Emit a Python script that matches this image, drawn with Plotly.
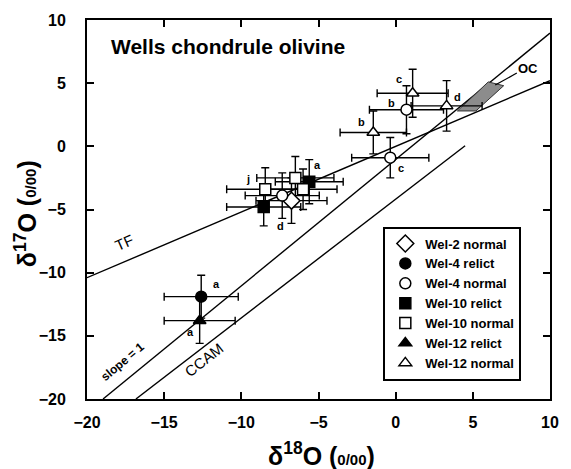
import plotly.graph_objects as go

# ---------------- data ----------------
groups = ["Wel-2 normal", "Wel-4 relict", "Wel-4 normal", "Wel-10 relict",
          "Wel-10 normal", "Wel-12 relict", "Wel-12 normal"]
symbols = ["diamond", "circle", "circle", "square", "square", "triangle-up", "triangle-up"]
fills = ["white", "black", "white", "black", "white", "black", "white"]

wel2n_x = [-6.75]; wel2n_y = [-4.3]
wel2n_ex = [2.3];  wel2n_ey = [1.8]

wel4r_x = [-12.6]; wel4r_y = [-11.9]
wel4r_ex = [2.4];  wel4r_ey = [1.7]

wel4n_x = [-7.35, 0.7, -0.35]; wel4n_y = [-3.9, 2.9, -0.9]
wel4n_ex = [2.4, 2.4, 2.5];    wel4n_ey = [1.8, 1.9, 1.6]

wel10r_x = [-5.6, -8.55]; wel10r_y = [-2.8, -4.8]
wel10r_ex = [2.2, 2.4];   wel10r_ey = [1.75, 1.5]

wel10n_x = [-8.45, -6.5, -6.0]; wel10n_y = [-3.4, -2.5, -3.4]
wel10n_ex = [2.5, 2.5, 2.2];    wel10n_ey = [1.7, 1.7, 1.6]

wel12r_x = [-12.7]; wel12r_y = [-13.8]
wel12r_ex = [2.3];  wel12r_ey = [1.8]

wel12n_x = [1.1, 3.3, -1.45]; wel12n_y = [4.2, 3.2, 1.1]
wel12n_ex = [2.3, 2.3, 2.15]; wel12n_ey = [1.9, 2.0, 1.7]

# reference lines: slope, intercept, x-start, x-end
line_names = ["TF", "slope = 1", "CCAM"]
line_slopes = [0.52, 1.0, 0.94]
line_intercepts = [0.0, -1.04, -4.18]
line_x0 = [-20.0, -18.96, -16.83]
line_x1 = [10.0, 10.0, 4.5]

# OC field polygon
oc_x = [4.0, 6.0, 7.0, 5.2, 4.0]
oc_y = [2.8, 5.1, 4.8, 2.8, 2.8]

# point labels
lab_text = ["a", "a", "a", "j", "d", "c", "b", "d", "b", "c"]
lab_x = [-11.6, -13.3, -5.05, -9.55, -7.45, 0.2, -0.3, 4.0, -2.2, 0.35]
lab_y = [-10.9, -14.7, -1.5, -2.6, -6.3, 5.35, 3.45, 3.9, 1.9, -1.7]

xs = [wel2n_x, wel4r_x, wel4n_x, wel10r_x, wel10n_x, wel12r_x, wel12n_x]
ys = [wel2n_y, wel4r_y, wel4n_y, wel10r_y, wel10n_y, wel12r_y, wel12n_y]
exs = [wel2n_ex, wel4r_ex, wel4n_ex, wel10r_ex, wel10n_ex, wel12r_ex, wel12n_ex]
eys = [wel2n_ey, wel4r_ey, wel4n_ey, wel10r_ey, wel10n_ey, wel12r_ey, wel12n_ey]

FONT = "Liberation Sans, Arial, sans-serif"

fig = go.Figure()

# reference lines
for s, b, x0, x1 in zip(line_slopes, line_intercepts, line_x0, line_x1):
    fig.add_trace(go.Scatter(x=[x0, x1], y=[s * x0 + b, s * x1 + b], mode="lines",
                             line=dict(color="black", width=1.4), showlegend=False,
                             hoverinfo="skip"))

# OC field
fig.add_trace(go.Scatter(x=oc_x, y=oc_y, mode="lines", fill="toself",
                         fillcolor="#8c8c8c", line=dict(color="#333333", width=1),
                         showlegend=False, hoverinfo="skip"))
# OC leader line
fig.add_trace(go.Scatter(x=[6.45, 7.85], y=[4.85, 5.8], mode="lines",
                         line=dict(color="black", width=1.2), showlegend=False,
                         hoverinfo="skip"))

# error bars (under markers)
for x, y, ex, ey in zip(xs, ys, exs, eys):
    fig.add_trace(go.Scatter(
        x=x, y=y, mode="markers",
        marker=dict(size=1, color="rgba(0,0,0,0)"),
        error_x=dict(type="data", array=ex, color="black", thickness=1.4, width=4),
        error_y=dict(type="data", array=ey, color="black", thickness=1.4, width=4),
        showlegend=False, hoverinfo="skip"))

# markers
for name, sym, fc, x, y in zip(groups, symbols, fills, xs, ys):
    size = 11 if sym != "diamond" else 13
    fig.add_trace(go.Scatter(
        x=x, y=y, mode="markers", name=name,
        marker=dict(symbol=sym, size=size, color=fc,
                    line=dict(color="black", width=1.5))))

# point labels
for t, x, y in zip(lab_text, lab_x, lab_y):
    fig.add_annotation(x=x, y=y, text=t, showarrow=False,
                       font=dict(family=FONT, size=11, color="black", weight="bold"))

# line labels
fig.add_annotation(x=-17.6, y=-7.6, text="TF", showarrow=False, textangle=-24,
                   font=dict(family=FONT, size=15, color="black"))
fig.add_annotation(x=-17.7, y=-17.1, text="slope = 1", showarrow=False, textangle=-40,
                   font=dict(family=FONT, size=12, color="black", weight="bold"))
fig.add_annotation(x=-12.4, y=-16.9, text="CCAM", showarrow=False, textangle=-38,
                   font=dict(family=FONT, size=15, color="black"))
fig.add_annotation(x=8.6, y=6.2, text="OC", showarrow=False,
                   font=dict(family=FONT, size=13, color="black", weight="bold"))

# title in plot
fig.add_annotation(x=-18.6, y=7.9, text="Wells chondrule olivine", showarrow=False,
                   xanchor="left", font=dict(family=FONT, size=21, color="black", weight="bold"))

# axis titles
fig.add_annotation(xref="paper", yref="paper", x=0.507, y=-0.146, yanchor="middle",
                   text="δ<sup>18</sup>O (<span style='font-size:15px'>0/00</span>)",
                   showarrow=False, font=dict(family=FONT, size=25, color="black", weight="bold"))
fig.add_annotation(xref="paper", yref="paper", x=-0.132, y=0.49, xanchor="center",
                   yanchor="middle",
                   text="δ<sup>17</sup>O (<span style='font-size:15px'>0/00</span>)",
                   textangle=-90, showarrow=False,
                   font=dict(family=FONT, size=25, color="black", weight="bold"))

axis_common = dict(showline=True, linewidth=2, linecolor="black", mirror="ticks",
                   ticks="inside", ticklen=7, tickwidth=2, tickcolor="black",
                   showgrid=False, zeroline=False,
                   tickfont=dict(family=FONT, size=16, color="black", weight="bold"))

fig.update_layout(
    width=571, height=469,
    margin=dict(l=87, r=13, t=15, b=70),
    paper_bgcolor="white", plot_bgcolor="white",
    xaxis=dict(range=[-20, 10], tickvals=[-20, -15, -10, -5, 0, 5, 10],
               ticklabelstandoff=8, **axis_common),
    yaxis=dict(range=[-20, 10], tickvals=[-20, -15, -10, -5, 0, 5, 10],
               ticklabelstandoff=16, **axis_common),
    legend=dict(x=0.64, y=0.455, xanchor="left", yanchor="top",
                bgcolor="white", bordercolor="black", borderwidth=2,
                font=dict(family=FONT, size=13, color="black", weight="bold"),
                itemwidth=30, tracegroupgap=0),
    showlegend=True,
)

fig.write_html("out.html")
